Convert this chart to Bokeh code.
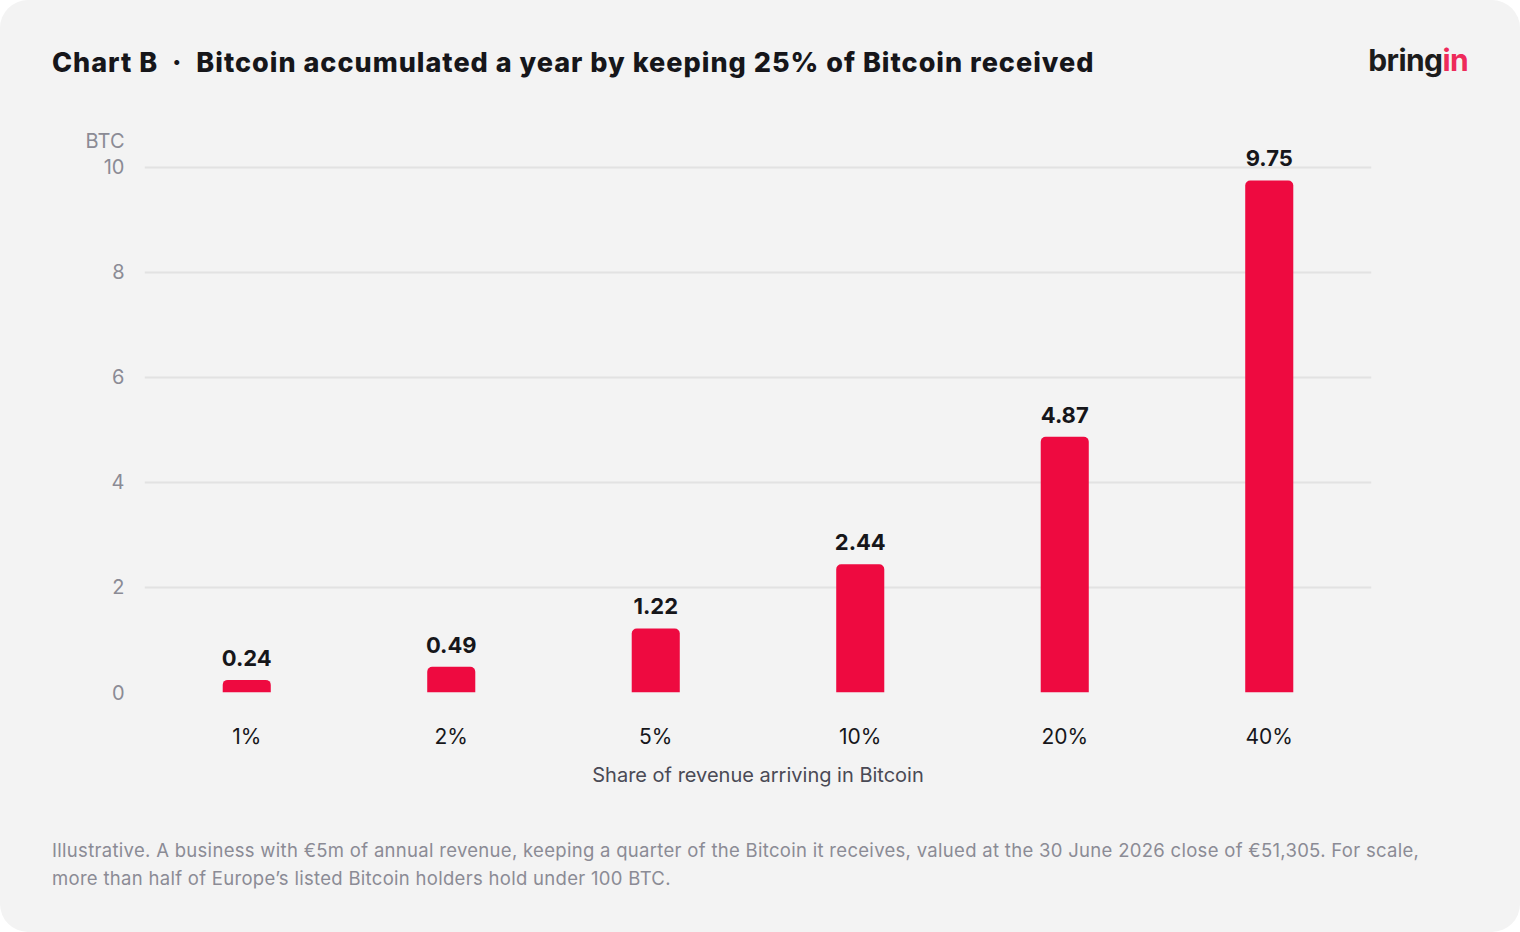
from bokeh.models import ColumnDataSource, Range1d, FixedTicker, Div
from bokeh.plotting import figure
from bokeh.layouts import column
from bokeh.core.properties import value
from bokeh.embed import file_html
from bokeh.resources import INLINE

# data
shares = ["1%", "2%", "5%", "10%", "20%", "40%"]
btc = [0.24, 0.49, 1.22, 2.44, 4.87, 9.75]
btc_labels = ["0.24", "0.49", "1.22", "2.44", "4.87", "9.75"]
y_ticks = [0, 2, 4, 6, 8, 10]

title_text = "Chart B &nbsp;\u00b7&nbsp; Bitcoin accumulated a year by keeping 25% of Bitcoin received"
y_title = "BTC"
x_title = "Share of revenue arriving in Bitcoin"
note1 = ("Illustrative. A business with \u20ac5m of annual revenue, keeping a quarter of the Bitcoin it receives, "
         "valued at the 30 June 2026 close of \u20ac51,305. For scale,")
note2 = "more than half of Europe\u2019s listed Bitcoin holders hold under 100 BTC."

BG = "#f3f3f3"
RED = "#ee0a40"
DARK = "#16161a"
GREY = "#8b8b95"
FONT = "Inter"
W = 1520
UNIT_POS = 10.5   # where the "BTC" unit sits on the y axis, just above the top tick

span = ("<span style=\"position:absolute;white-space:nowrap;line-height:1;"
        "font-family:'Inter',sans-serif;{}\">{}</span>")

# header: title and logo
head_html = (
    "<div style=\"position:relative;width:1520px;height:128px;\">"
    + span.format("left:52px;top:49px;font-size:27px;font-weight:800;letter-spacing:1px;color:%s;" % DARK,
                  title_text)
    + span.format("right:52px;top:45px;font-size:30px;font-weight:700;letter-spacing:-0.6px;color:#1c1c1c;",
                  "bring<span style=\"color:#ee2a5a;\">in</span>")
    + "</div>")
head = Div(text=head_html, width=W, height=128, margin=0)

# main chart
source = ColumnDataSource(data=dict(share=shares, btc=btc, lab=btc_labels))

p = figure(width=W, height=692, x_range=shares, y_range=Range1d(0, 10.74),
           output_backend="svg", toolbar_location=None, tools="",
           background_fill_color=None, border_fill_color=BG,
           min_border_left=144, min_border_right=149, min_border_top=0, min_border_bottom=128)
p.outline_line_color = None
p.x_range.range_padding = 0

p.vbar(x="share", top="btc", width=0.235, source=source, color=RED, line_color=None,
       border_radius=(5, 5, 0, 0))
p.text(x="share", y="btc", text="lab", source=source, text_align="center",
       text_baseline="alphabetic", y_offset=-22, text_font=value(FONT),
       text_font_style="bold", text_font_size="22px", text_color=DARK)

p.xgrid.grid_line_color = None
p.ygrid.ticker = FixedTicker(ticks=y_ticks)
p.ygrid.grid_line_color = "#e2e2e2"
p.ygrid.grid_line_width = 2

# y axis: numeric ticks plus the unit written above them
p.yaxis.ticker = FixedTicker(ticks=y_ticks + [UNIT_POS])
p.yaxis.major_label_overrides = {UNIT_POS: y_title}
p.yaxis.axis_line_color = None
p.yaxis.major_tick_line_color = None
p.yaxis.minor_tick_line_color = None
p.yaxis.major_label_standoff = 14
p.yaxis.major_label_text_font = FONT
p.yaxis.major_label_text_font_size = "20px"
p.yaxis.major_label_text_color = GREY

p.xaxis.axis_line_color = None
p.xaxis.major_tick_line_color = None
p.xaxis.minor_tick_line_color = None
p.xaxis.major_label_standoff = 25
p.xaxis.major_label_text_font = FONT
p.xaxis.major_label_text_font_size = "21px"
p.xaxis.major_label_text_color = DARK
p.xaxis.axis_label = x_title
p.xaxis.axis_label_standoff = 11
p.xaxis.axis_label_text_font = FONT
p.xaxis.axis_label_text_font_style = "normal"
p.xaxis.axis_label_text_font_size = "20px"
p.xaxis.axis_label_text_color = "#4a4a55"

# footer note
note_style = "left:52px;font-size:18.5px;letter-spacing:0.3px;color:%s;" % GREY
foot_html = (
    "<div style=\"position:relative;width:1520px;height:112px;\">"
    + span.format("top:21px;" + note_style, note1)
    + span.format("top:49px;" + note_style, note2)
    + "</div>")
foot = Div(text=foot_html, width=W, height=112, margin=0)

page = column(head, p, foot, spacing=0)
page.styles = {"border-radius": "28px", "overflow": "hidden", "background-color": BG}

open("out.html", "w").write(file_html(page, INLINE))
